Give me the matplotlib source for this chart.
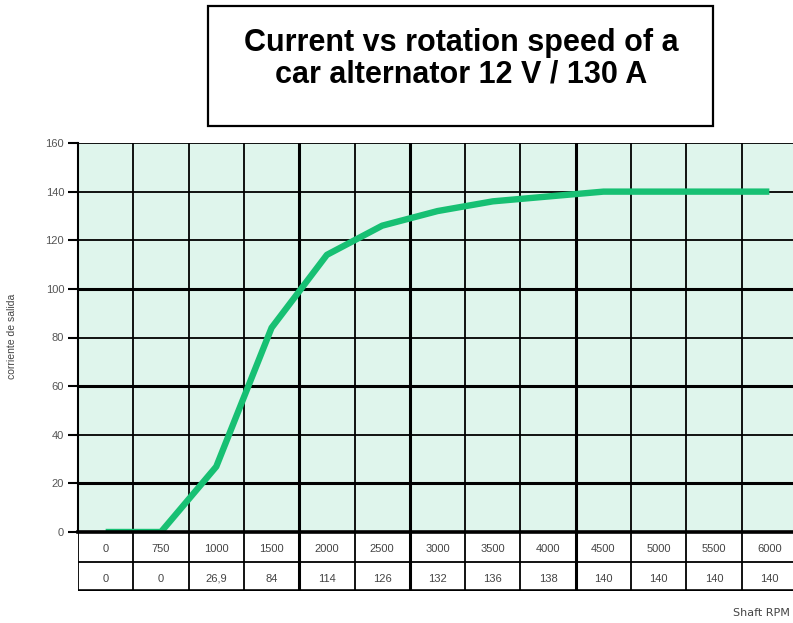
import matplotlib.pyplot as plt
from matplotlib.patches import Rectangle

rpm_labels = ['0', '750', '1000', '1500', '2000', '2500', '3000',
              '3500', '4000', '4500', '5000', '5500', '6000']
current_labels = ['0', '0', '26,9', '84', '114', '126', '132',
                  '136', '138', '140', '140', '140', '140']
current = [0, 0, 26.9, 84, 114, 126, 132, 136, 138, 140, 140, 140, 140]
y_ticks = [0, 20, 40, 60, 80, 100, 120, 140, 160]

W, H = 793, 623
fill = '#dff5ec'
green = '#17c073'
small = dict(family='Liberation Sans', color='#444444')

fig = plt.figure(figsize=(W / 100, H / 100), dpi=100)

# plot area in pixels
left, right, top, bottom = 78, 797, 143, 532
row_h = 29.5

ax = fig.add_axes([left / W, 1 - bottom / H, (right - left) / W, (bottom - top) / H])
ax.set_facecolor(fill)
n = len(rpm_labels)
ax.set_xlim(0, n)
ax.set_ylim(0, 160)

thick_y = [0, 20, 60, 100]
for v in y_ticks[1:]:
    ax.axhline(v, color='black', lw=2.2 if v in thick_y else 1.3, zorder=1)
thick_x = [4, 6, 9]
for k in range(1, n):
    ax.axvline(k, color='black', lw=2.2 if k in thick_x else 1.3, zorder=1)

xs = [i + 0.5 for i in range(n)]
ax.plot(xs, current, color=green, lw=4.6, solid_capstyle='butt', zorder=3)

for s in ['top', 'right', 'bottom']:
    ax.spines[s].set_visible(False)
ax.spines['left'].set_linewidth(1.5)
ax.set_xticks([])
ax.set_yticks(y_ticks)
ax.tick_params(axis='y', length=7, width=1.5, pad=3, labelsize=8)
for lab in ax.get_yticklabels():
    lab.set_family('Liberation Sans')
    lab.set_color('#555555')
ax.axhline(0, color='black', lw=2.6, zorder=4, clip_on=False)

# table under the plot
tab = fig.add_axes([left / W, 1 - (bottom + 2 * row_h) / H, (right - left) / W, 2 * row_h / H])
tab.set_xlim(0, n)
tab.set_ylim(0, 2)
tab.axis('off')
tab.axhline(1, color='black', lw=1.3)
tab.axhline(0, color='black', lw=2.6)
for k in range(0, n):
    tab.axvline(k, color='black', lw=2.2 if k in thick_x else 1.3)
for i in range(n):
    tab.text(i + 0.5, 1.45, rpm_labels[i], ha='center', va='center_baseline', fontsize=8, **small)
    tab.text(i + 0.5, 0.45, current_labels[i], ha='center', va='center_baseline', fontsize=8, **small)

fig.text(12 / W, 1 - 336 / H, 'corriente de salida', rotation=90, ha='center', va='center',
         fontsize=7.5, **small)
fig.text(790 / W, 1 - 613 / H, 'Shaft RPM', ha='right', va='center',
         fontsize=8, color='#444444')

# title box
fig.patches.append(Rectangle((208 / W, 1 - 126 / H), 505 / W, 120 / H, transform=fig.transFigure,
                             facecolor='white', edgecolor='black', lw=1.6, zorder=5))
fig.text(461 / W, 1 - 59 / H, 'Current vs rotation speed of a\ncar alternator 12 V / 130 A',
         ha='center', va='center', fontsize=22, fontweight='bold', family='Liberation Sans',
         linespacing=1.08, zorder=6)

fig.savefig('out.png', dpi=100)
